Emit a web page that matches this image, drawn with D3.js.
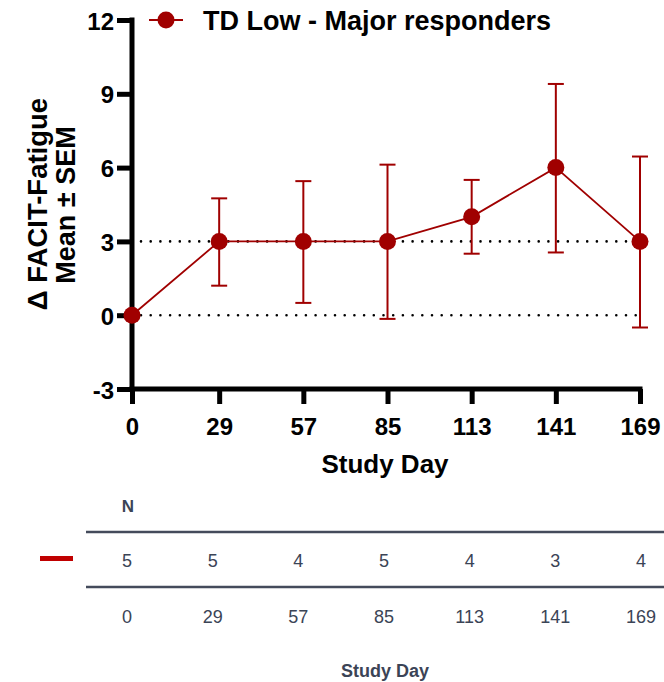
<!DOCTYPE html>
<html>
<head>
<meta charset="UTF-8">
<script src="https://d3js.org/d3.v7.min.js"></script>
<style>
  body { margin: 0; background: #fff; }
  svg { display: block; }
</style>
</head>
<body>
<svg id="chart" width="664" height="682"></svg>
<script>
// --- data ---
const days = [0, 29, 57, 85, 113, 141, 169];
const means = [0, 3, 3, 3, 4, 6, 3];
const upper = [0, 4.75, 5.45, 6.12, 5.5, 9.4, 6.45];
const lower = [0, 1.2, 0.5, -0.15, 2.5, 2.55, -0.5];
const nCounts = [5, 5, 4, 5, 4, 3, 4];
const yTicks = [-3, 0, 3, 6, 9, 12];
const refLines = [0, 3];
const seriesName = "TD Low - Major responders";

const red = "#a00000";
const svg = d3.select("#chart");

const x = d3.scaleLinear().domain([0, 169]).range([132, 640]);
const y = d3.scaleLinear().domain([-3, 12]).range([389, 20]);

const boldFont = "'Liberation Sans', Arial, sans-serif";

// dotted reference lines
svg.selectAll(".ref").data(refLines).enter().append("line")
  .attr("x1", x(0) + 9).attr("x2", x(169) - 4)
  .attr("y1", d => y(d)).attr("y2", d => y(d))
  .attr("stroke", "#000").attr("stroke-width", 2.6)
  .attr("stroke-linecap", "round")
  .attr("stroke-dasharray", "0 9.7");

// axes
const yAxis = svg.append("g").attr("transform", `translate(${x(0)},0)`)
  .call(d3.axisLeft(y).tickValues(yTicks).tickSize(15).tickPadding(3).tickFormat(d => String(d)));
const xAxis = svg.append("g").attr("transform", `translate(0,${y(-3)})`)
  .call(d3.axisBottom(x).tickValues(days).tickSize(15).tickPadding(14).tickFormat(d => String(d)));

[yAxis, xAxis].forEach(a => {
  a.select(".domain").attr("stroke", "#000").attr("stroke-width", 5);
  a.selectAll(".tick line").attr("stroke", "#000").attr("stroke-width", 5);
  a.selectAll(".tick text").attr("fill", "#000")
    .style("font-family", boldFont).style("font-weight", "bold").style("font-size", "24px");
});
yAxis.select(".domain").attr("d", `M0,${y(12) - 2.5}V${y(-3) + 2.5}`);
xAxis.select(".domain").attr("d", `M${x(0) - 2.5},0H${x(169) + 2.5}`);
yAxis.selectAll(".tick text").attr("dy", "0.38em");

// error bars
const pts = days.map((d, i) => ({ day: d, mean: means[i], hi: upper[i], lo: lower[i] }));
const eb = svg.append("g").attr("stroke", red).attr("stroke-width", 2);
pts.filter(p => p.hi !== p.lo).forEach(p => {
  eb.append("line").attr("x1", x(p.day)).attr("x2", x(p.day)).attr("y1", y(p.hi)).attr("y2", y(p.lo));
  eb.append("line").attr("x1", x(p.day) - 8).attr("x2", x(p.day) + 8).attr("y1", y(p.hi)).attr("y2", y(p.hi));
  eb.append("line").attr("x1", x(p.day) - 8).attr("x2", x(p.day) + 8).attr("y1", y(p.lo)).attr("y2", y(p.lo));
});

// line + markers
svg.append("path").datum(pts)
  .attr("fill", "none").attr("stroke", red).attr("stroke-width", 1.8)
  .attr("d", d3.line().x(d => x(d.day)).y(d => y(d.mean)));
svg.selectAll(".pt").data(pts).enter().append("circle")
  .attr("cx", d => x(d.day)).attr("cy", d => y(d.mean)).attr("r", 8.5).attr("fill", red);

// legend
svg.append("line").attr("x1", 149).attr("x2", 183).attr("y1", 20).attr("y2", 20)
  .attr("stroke", red).attr("stroke-width", 1.8);
svg.append("circle").attr("cx", 166).attr("cy", 20).attr("r", 8.5).attr("fill", red);
svg.append("text").attr("x", 203).attr("y", 30).text(seriesName)
  .style("font-family", boldFont).style("font-weight", "bold").style("font-size", "27px");

// axis titles
svg.append("text").attr("transform", "translate(47,204) rotate(-90)")
  .attr("text-anchor", "middle").text("Δ FACIT-Fatigue")
  .style("font-family", boldFont).style("font-weight", "bold").style("font-size", "27.5px");
svg.append("text").attr("transform", "translate(75,205) rotate(-90)")
  .attr("text-anchor", "middle").text("Mean ± SEM")
  .style("font-family", boldFont).style("font-weight", "bold").style("font-size", "27px");
svg.append("text").attr("x", 385).attr("y", 473).attr("text-anchor", "middle").text("Study Day")
  .style("font-family", boldFont).style("font-weight", "bold").style("font-size", "26px");

// --- N table ---
const tColor = "#3b4456";
const tFont = "'Liberation Sans', Arial, sans-serif";
const tx = d3.scalePoint().domain(days).range([127, 641]);

svg.append("text").attr("x", 128).attr("y", 512).attr("text-anchor", "middle").text("N")
  .attr("fill", tColor).style("font-family", tFont).style("font-weight", "bold").style("font-size", "17px");
[532, 587].forEach(yy => svg.append("line").attr("x1", 86).attr("x2", 664)
  .attr("y1", yy).attr("y2", yy).attr("stroke", "#444b5b").attr("stroke-width", 2.5));
svg.append("rect").attr("x", 40).attr("y", 556).attr("width", 33).attr("height", 5).attr("fill", "#c00000");

svg.selectAll(".nval").data(days).enter().append("text")
  .attr("x", d => tx(d)).attr("y", 567).attr("text-anchor", "middle")
  .text((d, i) => nCounts[i])
  .attr("fill", tColor).style("font-family", tFont).style("font-size", "18px");
svg.selectAll(".dlab").data(days).enter().append("text")
  .attr("x", d => tx(d)).attr("y", 623).attr("text-anchor", "middle")
  .text(d => d)
  .attr("fill", tColor).style("font-family", tFont).style("font-size", "18px");
svg.append("text").attr("x", 385).attr("y", 677).attr("text-anchor", "middle").text("Study Day")
  .attr("fill", tColor).style("font-family", tFont).style("font-weight", "bold").style("font-size", "18px");
</script>
</body>
</html>
